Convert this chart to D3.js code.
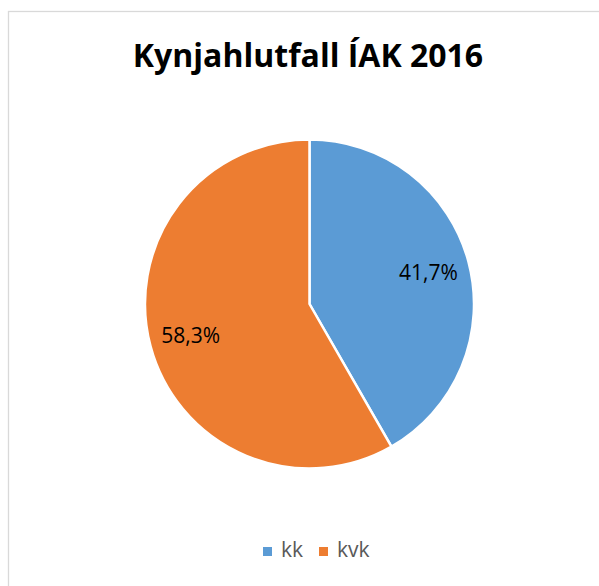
<!DOCTYPE html>
<html>
<head>
<meta charset="utf-8">
<script src="https://cdn.jsdelivr.net/npm/d3@7"></script>
<style>
  body { margin: 0; background: #fff; }
  svg { display: block; }
</style>
</head>
<body>
<svg id="chart" width="599" height="586"></svg>
<script>
// data
const categories = ["kk", "kvk"];
const shares = [41.7, 58.3];
const labels = ["41,7%", "58,3%"];
const colors = ["#5B9BD5", "#ED7D31"];
const title = "Kynjahlutfall ÍAK 2016";

const svg = d3.select("#chart");

// chart frame (runs off the right and bottom edge like the screenshot)
svg.append("rect")
  .attr("x", 8.5).attr("y", 11.5)
  .attr("width", 620).attr("height", 600)
  .attr("fill", "#fff")
  .attr("stroke", "#d9d9d9")
  .attr("stroke-width", 1.3);

// title
svg.append("text")
  .attr("x", 308).attr("y", 67)
  .attr("text-anchor", "middle")
  .attr("font-family", "'Open Sans', sans-serif")
  .attr("font-weight", "bold")
  .attr("font-size", 32)
  .attr("fill", "#000")
  .text(title);

// pie
const cx = 309.5, cy = 304, r = 164.5;
const pie = d3.pie().sort(null).value(d => d);
const arcs = pie(shares);
const arc = d3.arc().innerRadius(0).outerRadius(r);
const labelArc = d3.arc().innerRadius(123).outerRadius(123);

const g = svg.append("g").attr("transform", `translate(${cx},${cy})`);

g.selectAll("path")
  .data(arcs)
  .join("path")
  .attr("d", arc)
  .attr("fill", (d, i) => colors[i])
  .attr("stroke", "#fff")
  .attr("stroke-width", 2.5)
  .attr("stroke-linejoin", "round");

g.selectAll("text.lbl")
  .data(arcs)
  .join("text")
  .attr("class", "lbl")
  .attr("transform", d => `translate(${labelArc.centroid(d)})`)
  .attr("text-anchor", "middle")
  .attr("dy", "0.36em")
  .attr("font-family", "'Open Sans', sans-serif")
  .attr("font-size", 21)
  .attr("fill", "#000")
  .text((d, i) => labels[i]);

// legend
const legendX = d3.scalePoint().domain(categories).range([263, 319]);
const legend = svg.append("g")
  .selectAll("g")
  .data(categories)
  .join("g")
  .attr("transform", d => `translate(${legendX(d)},547)`);

legend.append("rect")
  .attr("width", 9).attr("height", 9)
  .attr("fill", (d, i) => colors[i]);

legend.append("text")
  .attr("x", 18).attr("y", 10)
  .attr("font-family", "'Open Sans', sans-serif")
  .attr("font-size", 21)
  .attr("fill", "#595959")
  .text(d => d);
</script>
</body>
</html>
